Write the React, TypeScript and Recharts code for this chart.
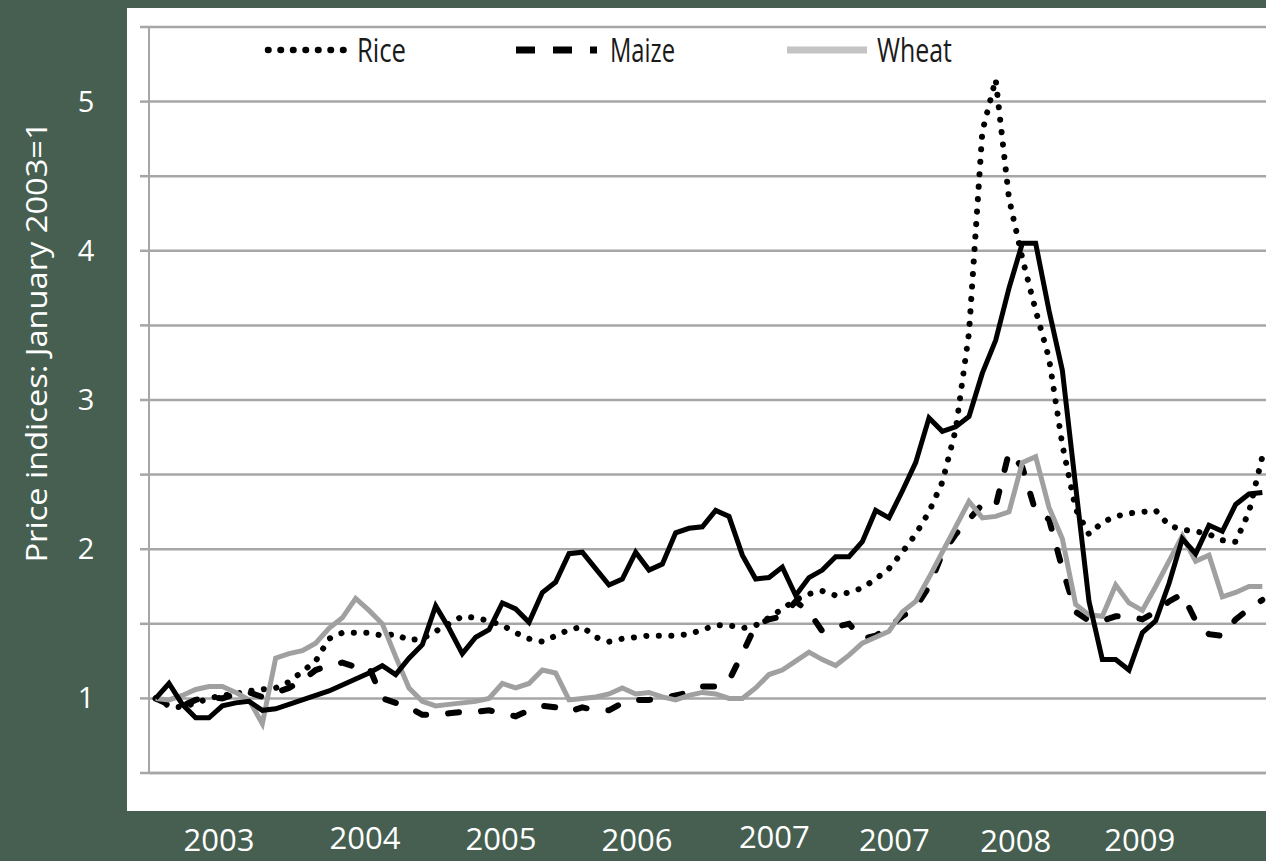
import React from 'react';
import { LineChart, Line, XAxis, YAxis, CartesianGrid, Legend } from 'recharts';

// monthly index values, January 2003 = 1
const rice = [
  1.0, 0.95, 0.94, 0.97, 1.0, 1.02, 1.03, 1.05, 1.06, 1.07,
  1.11, 1.18, 1.25, 1.4, 1.44, 1.44, 1.44, 1.42, 1.43, 1.39,
  1.4, 1.45, 1.5, 1.55, 1.54, 1.52, 1.49, 1.44, 1.4, 1.38,
  1.42, 1.46, 1.48, 1.41, 1.38, 1.4, 1.41, 1.42, 1.42, 1.42,
  1.43, 1.46, 1.49, 1.49, 1.47, 1.49, 1.54, 1.6, 1.66, 1.7,
  1.72, 1.69, 1.71, 1.74, 1.8, 1.87, 1.98, 2.1, 2.25, 2.45,
  2.8, 3.45, 4.8, 5.15, 4.35, 3.95, 3.6, 3.28, 2.7, 2.27,
  2.1, 2.18, 2.22, 2.24, 2.25, 2.26, 2.16, 2.13, 2.12, 2.1,
  2.06, 2.05, 2.25, 2.62,
];
const maize = [
  1.0, 0.96, 0.95, 0.99, 1.01, 1.0, 1.03, 1.04, 1.01, 1.04,
  1.07, 1.12, 1.19, 1.22, 1.24, 1.21, 1.21, 1.0, 0.97, 0.94,
  0.89, 0.89, 0.9, 0.91, 0.91, 0.92, 0.9, 0.88, 0.92, 0.95,
  0.94, 0.91, 0.94, 0.92, 0.92, 0.97, 0.99, 0.99, 1.0, 1.02,
  1.04, 1.08, 1.08, 1.12, 1.3, 1.49, 1.53, 1.55, 1.65, 1.58,
  1.45, 1.48, 1.5, 1.4, 1.42, 1.48, 1.55, 1.61, 1.75, 1.97,
  2.1, 2.2, 2.3, 2.29, 2.65, 2.55, 2.25, 2.2, 1.87, 1.58,
  1.52, 1.52, 1.55, 1.55, 1.53, 1.58, 1.65, 1.7, 1.52, 1.43,
  1.42, 1.53, 1.6, 1.66,
];
const wheat = [
  1.0, 0.99, 1.02, 1.06, 1.08, 1.08, 1.04, 0.99, 0.83, 1.27,
  1.3, 1.32, 1.37, 1.47, 1.54, 1.67, 1.59, 1.5, 1.28, 1.07,
  0.98, 0.95, 0.96, 0.97, 0.98, 1.0, 1.1, 1.07, 1.1, 1.19,
  1.17, 0.99, 1.0, 1.01, 1.03, 1.07, 1.03, 1.04, 1.01, 0.99,
  1.02, 1.04, 1.03, 1.0, 1.0, 1.07, 1.16, 1.19, 1.25, 1.31,
  1.26, 1.22, 1.29, 1.37, 1.41, 1.45, 1.58, 1.65, 1.81, 1.98,
  2.15, 2.32, 2.21, 2.22, 2.25, 2.58, 2.62, 2.28, 2.07, 1.63,
  1.56, 1.55, 1.76, 1.64, 1.59, 1.75, 1.92, 2.09, 1.92, 1.96,
  1.68, 1.71, 1.75, 1.75,
];
// the solid black series (its legend entry is cut off in the original)
const oil = [
  1.0, 1.1, 0.96, 0.87, 0.87, 0.95, 0.97, 0.98, 0.92, 0.93,
  0.96, 0.99, 1.02, 1.05, 1.09, 1.13, 1.17, 1.22, 1.16, 1.27,
  1.36, 1.62, 1.47, 1.3, 1.41, 1.46, 1.64, 1.6, 1.51, 1.71,
  1.78, 1.97, 1.98, 1.87, 1.76, 1.8, 1.98, 1.86, 1.9, 2.11,
  2.14, 2.15, 2.26, 2.22, 1.96, 1.8, 1.81, 1.88, 1.69, 1.81,
  1.86, 1.95, 1.95, 2.05, 2.26, 2.21, 2.39, 2.58, 2.88, 2.79,
  2.82, 2.89, 3.18, 3.4, 3.75, 4.05, 4.05, 3.6, 3.2, 2.42,
  1.65, 1.26, 1.26, 1.19, 1.44, 1.52, 1.77, 2.07, 1.97, 2.16,
  2.12, 2.3, 2.37, 2.38,
];

const yearLabels = ['2003', '2004', '2005', '2006', '2007', '2007', '2008', '2009'];
// where the year labels sit, in months from January 2003
const yearLabelAt = [4.75, 15.7, 25.9, 36.1, 46.4, 55.4, 64.5, 73.8];
const yearLabelDy = [63, 61, 62, 63, 60, 63, 64, 63];

const yTicks = [0.5, 1, 1.5, 2, 2.5, 3, 3.5, 4, 4.5, 5, 5.5];
const monthTicks = Array.from({ length: 43 }, (_, k) => -0.5 + 2 * k);

const data = rice.map((v, i) => ({
  m: i,
  rice: v,
  maize: maize[i],
  wheat: wheat[i],
  oil: oil[i],
}));

const GRID = '#a6a6a6';
const FONT = '"Open Sans", sans-serif';

const legendItems = [
  { name: 'Rice', x1: 268, x2: 344, textX: 357, textW: 49, stroke: '#000', width: 6.5, dash: '0.5 12', cap: 'round' },
  { name: 'Maize', x1: 516, x2: 597, textX: 610, textW: 65, stroke: '#000', width: 7, dash: '19 18', cap: 'butt' },
  { name: 'Wheat', x1: 787, x2: 867, textX: 877, textW: 75, stroke: '#c4c4c4', width: 7, dash: undefined, cap: 'butt' },
];

const LegendBox = () => (
  <svg width={1270} height={75}>
    {legendItems.map((it) => (
      <g key={it.name}>
        <line
          x1={it.x1}
          x2={it.x2}
          y1={50}
          y2={50}
          stroke={it.stroke}
          strokeWidth={it.width}
          strokeDasharray={it.dash}
          strokeLinecap={it.cap as any}
        />
        <text
          x={it.textX}
          y={62}
          fontSize={33}
          fontFamily={FONT}
          fill="#1a1a1a"
          textLength={it.textW}
          lengthAdjust="spacingAndGlyphs"
        >
          {it.name}
        </text>
      </g>
    ))}
  </svg>
);

const YTick = (props: any) => {
  const { x, y, payload } = props;
  if (!Number.isInteger(payload.value)) return null;
  return (
    <text x={x - 52} y={y + 10} textAnchor="middle" fill="#fff" fontSize={29} fontFamily={FONT}>
      {payload.value}
    </text>
  );
};

const YearTick = (props: any) => {
  const { x, y, index } = props;
  return (
    <text x={x} y={y + yearLabelDy[index]} textAnchor="middle" fill="#fff" fontSize={31} fontFamily={FONT}>
      {yearLabels[index]}
    </text>
  );
};

const AxisTitle = () => (
  <text
    transform="translate(47, 342) rotate(-90)"
    textAnchor="middle"
    fill="#fff"
    fontSize={30}
    fontFamily={FONT}
    textLength={441}
    lengthAdjust="spacingAndGlyphs"
  >
    Price indices: January 2003=1
  </text>
);

export default function App() {
  return (
    <div
      style={{
        position: 'fixed',
        left: 0,
        top: 0,
        width: 1266,
        height: 861,
        background: '#465f50',
        overflow: 'hidden',
      }}
    >
      <div
        style={{
          position: 'absolute',
          left: 127,
          top: 8,
          width: 1139,
          height: 803,
          background: '#fff',
        }}
      />
      <div style={{ position: 'absolute', left: 0, top: 0 }}>
        <LineChart width={1270} height={861} data={data} margin={{ top: 27, right: 1, bottom: 0, left: 0 }}>
          <CartesianGrid vertical={false} stroke={GRID} strokeWidth={2.5} />
          <XAxis
            dataKey="m"
            type="number"
            domain={[-0.5, 83.5]}
            ticks={monthTicks}
            interval={0}
            tick={false}
            tickSize={15}
            height={15}
            tickLine={{ stroke: GRID, strokeWidth: 1.5 }}
            axisLine={{ stroke: GRID, strokeWidth: 2.5 }}
            allowDataOverflow
          />
          <XAxis
            xAxisId="yr"
            dataKey="m"
            type="number"
            domain={[-0.5, 83.5]}
            ticks={yearLabelAt}
            interval={0}
            height={73}
            axisLine={false}
            tickLine={false}
            tickSize={0}
            tickMargin={0}
            tick={<YearTick />}
            allowDataOverflow
          />
          <YAxis
            type="number"
            domain={[0.5, 5.5]}
            ticks={yTicks}
            interval={0}
            width={149}
            tickSize={9}
            tickLine={{ stroke: GRID, strokeWidth: 2.5 }}
            axisLine={{ stroke: GRID, strokeWidth: 2 }}
            tick={<YTick />}
            label={<AxisTitle />}
            allowDataOverflow
          />
          <Legend
            verticalAlign="middle"
            align="center"
            layout="horizontal"
            wrapperStyle={{ left: 0, top: 0, width: 1270, height: 75 }}
            content={<LegendBox />}
          />
          <Line
            dataKey="rice"
            type="linear"
            stroke="#000"
            strokeWidth={6}
            strokeDasharray="0.1 12.4"
            strokeLinecap="round"
            dot={false}
            isAnimationActive={false}
          />
          <Line
            dataKey="maize"
            type="linear"
            stroke="#000"
            strokeWidth={6}
            strokeDasharray="11 22"
            strokeLinecap="round"
            dot={false}
            isAnimationActive={false}
          />
          <Line
            dataKey="wheat"
            type="linear"
            stroke="#a0a0a0"
            strokeWidth={5}
            dot={false}
            isAnimationActive={false}
          />
          <Line
            dataKey="oil"
            type="linear"
            stroke="#000"
            strokeWidth={5}
            dot={false}
            legendType="none"
            isAnimationActive={false}
          />
        </LineChart>
      </div>
    </div>
  );
}
